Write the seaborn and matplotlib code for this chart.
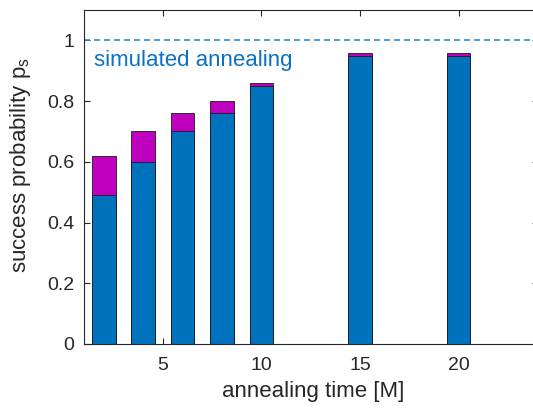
import matplotlib
matplotlib.use("Agg")
import matplotlib.pyplot as plt
import seaborn as sns
import pandas as pd

times = [2, 4, 6, 8, 10, 15, 20]
base_prob = [0.49, 0.60, 0.70, 0.76, 0.85, 0.95, 0.95]
total_prob = [0.62, 0.70, 0.76, 0.80, 0.86, 0.96, 0.96]
x_ticks = [5, 10, 15, 20]
y_ticks = [0, 0.2, 0.4, 0.6, 0.8, 1]
y_tick_labels = ["0", "0.2", "0.4", "0.6", "0.8", "1"]
sa_level = 1.0

sns.set_style("white")
plt.rcParams["font.family"] = ["Liberation Sans", "DejaVu Sans"]
plt.rcParams["mathtext.fontset"] = "custom"
plt.rcParams["mathtext.rm"] = "Liberation Sans"
plt.rcParams["mathtext.it"] = "Liberation Sans"

df = pd.DataFrame({"t": times, "base": base_prob, "total": total_prob})

W, H = 533, 409
fig = plt.figure(figsize=(W/100, H/100), dpi=100)
ax = fig.add_axes([84/W, 1-344/H, (537.5-84)/W, (344-10)/H])

sns.barplot(data=df, x="t", y="total", native_scale=True, width=0.6,
            color="#BF00BF", saturation=1, edgecolor="#1a1a1a", linewidth=0.6, ax=ax)
sns.barplot(data=df, x="t", y="base", native_scale=True, width=0.6,
            color="#0072BD", saturation=1, edgecolor="#1a1a1a", linewidth=0.6, ax=ax)

ax.axhline(sa_level, color="#2B8FD8", linestyle=(0, (3.6, 2.4)), linewidth=1.2)
ax.text(1.5, 0.9326, "simulated annealing", color="#0A72C4", fontsize=16, va="center", ha="left")

ax.set_xlim(1, 24)
ax.set_ylim(0, 1.1)
ax.set_xticks(x_ticks)
ax.set_xticklabels([str(v) for v in x_ticks])
ax.set_yticks(y_ticks)
ax.set_yticklabels(y_tick_labels)
ax.set_xlabel("annealing time [M]", fontsize=16, color="#262626")
ax.set_ylabel(r"success probability p$_\mathregular{s}$", fontsize=16, color="#262626")
ax.xaxis.set_label_coords(0.505, -0.111)
ax.yaxis.set_label_coords(-0.112, 0.536)

for s in ax.spines.values():
    s.set_color("#262626")
    s.set_linewidth(0.8)
    s.set_visible(True)
ax.tick_params(direction="in", length=4, width=0.8, colors="#262626",
               labelsize=14, top=True, right=True, left=True, bottom=True)
ax.tick_params(axis="x", pad=9.5)
ax.tick_params(axis="y", pad=7)

fig.savefig("out.png", dpi=100)
